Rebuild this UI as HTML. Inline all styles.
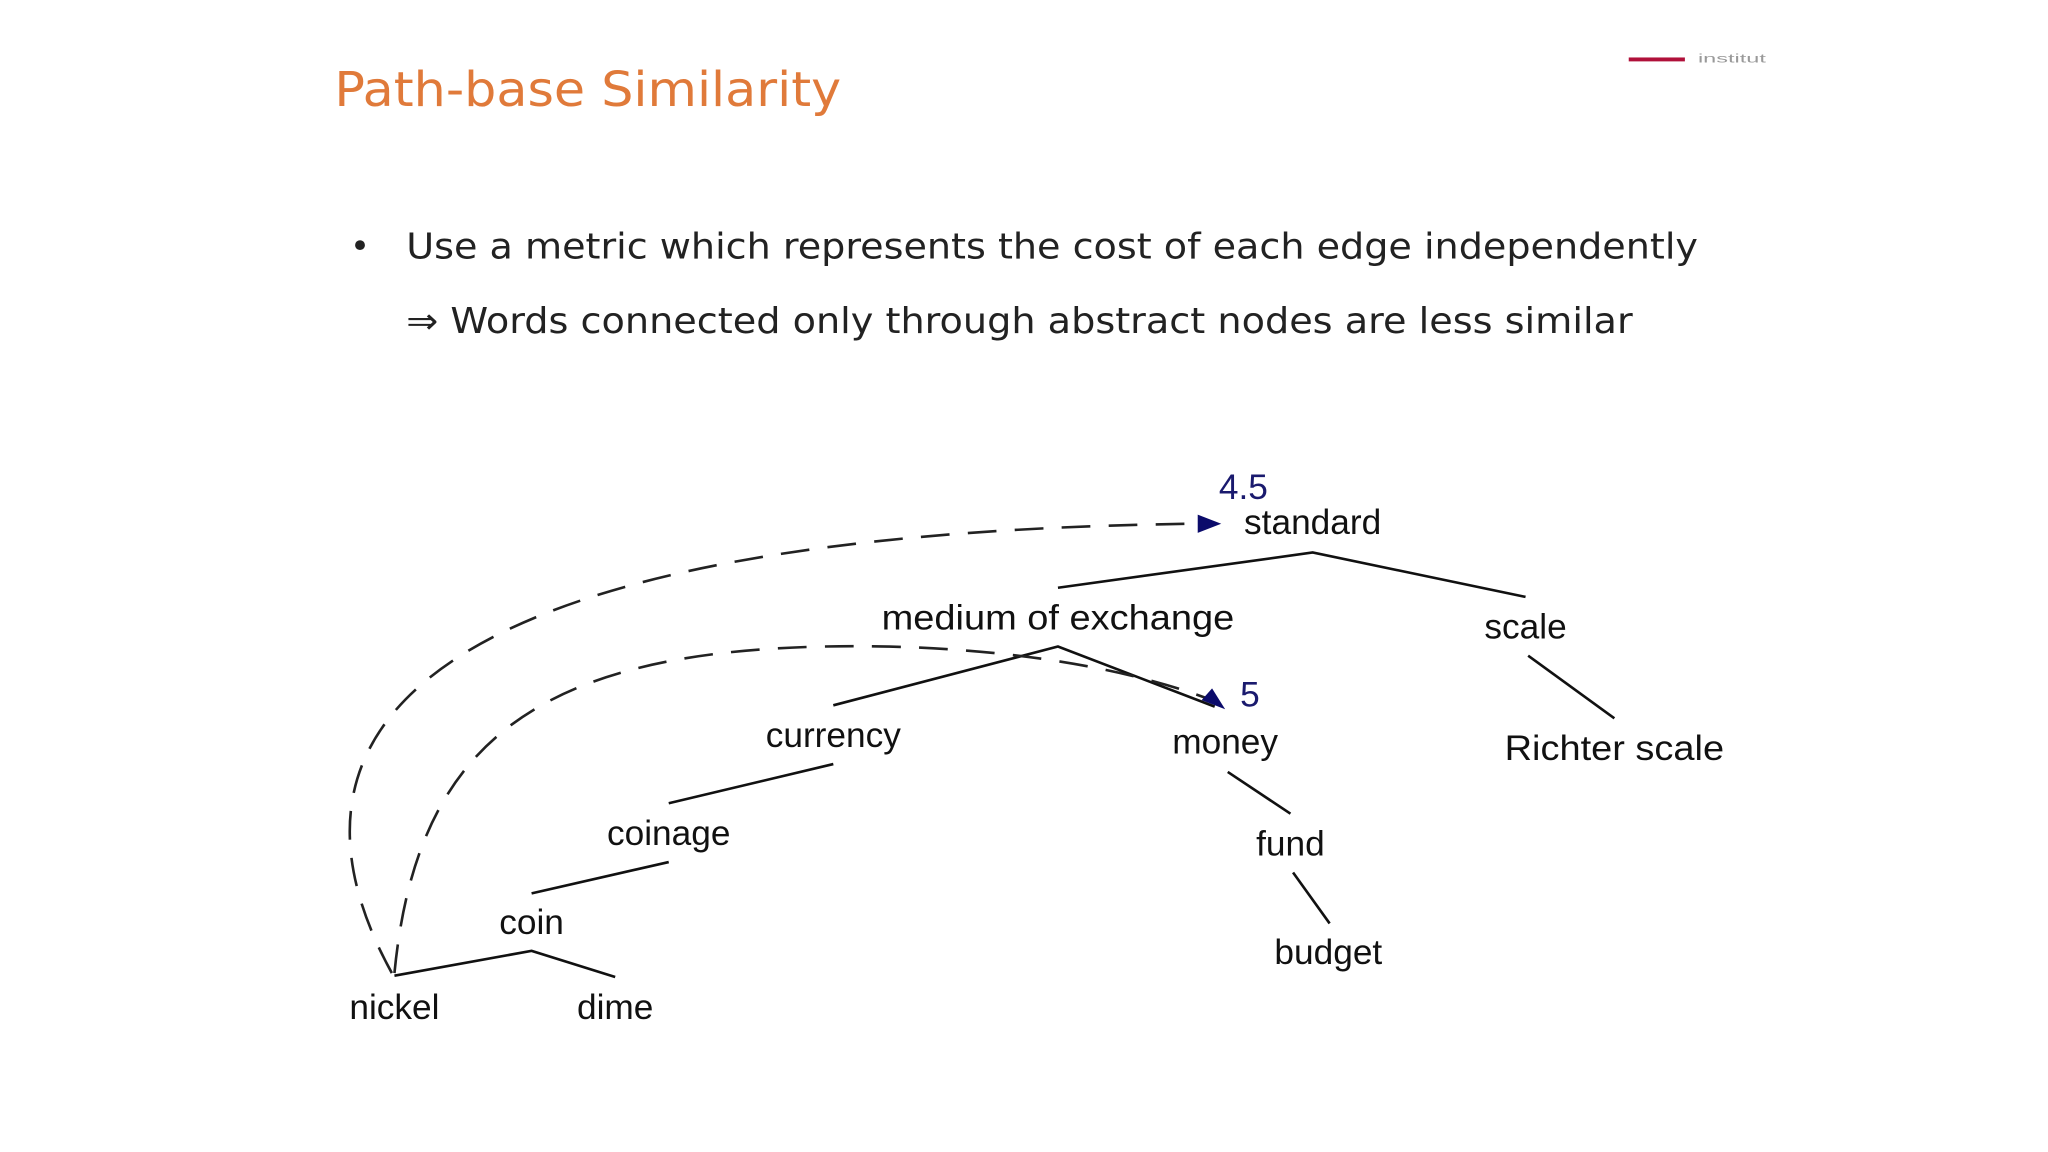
<!DOCTYPE html>
<html><head><meta charset="utf-8"><style>
html,body{margin:0;padding:0;background:#fff;width:2048px;height:1152px;overflow:hidden}
</style></head><body>
<svg width="2048" height="1152" viewBox="0 0 1568 882" xmlns="http://www.w3.org/2000/svg">
<rect width="1568" height="882" fill="#fff"/>
<text x="256" y="81" font-family="DejaVu Sans, Liberation Sans, sans-serif" font-size="37" fill="#e07a3a" textLength="388" lengthAdjust="spacingAndGlyphs">Path-base Similarity</text>
<rect x="1247" y="44" width="43" height="3" fill="#b0103a"/>
<text x="1300" y="48" font-family="Liberation Sans, sans-serif" font-size="9" fill="#999" textLength="52" lengthAdjust="spacingAndGlyphs">institut</text>
<text x="268" y="197" font-family="DejaVu Sans, sans-serif" font-size="26" fill="#222">•</text>
<text x="311" y="198" font-family="DejaVu Sans, sans-serif" font-size="27" fill="#222" textLength="989" lengthAdjust="spacingAndGlyphs">Use a metric which represents the cost of each edge independently</text>
<text x="311" y="255" font-family="DejaVu Sans, sans-serif" font-size="27" fill="#222" textLength="939" lengthAdjust="spacingAndGlyphs">⇒ Words connected only through abstract nodes are less similar</text>
<g fill="none" stroke="#111" stroke-width="2">
<polyline points="810,450 1005,423 1168,457"/>
<polyline points="638,540 810,495 930,541"/>
<line x1="1170" y1="502" x2="1236" y2="550"/>
<line x1="638" y1="585" x2="512" y2="615"/>
<line x1="512" y1="660" x2="407" y2="684"/>
<polyline points="302,747 407,728 471,748"/>
<line x1="940" y1="591" x2="988" y2="623"/>
<line x1="990" y1="668" x2="1018" y2="707"/>
</g>
<g fill="none" stroke="#222" stroke-width="2" stroke-dasharray="22,14">
<path d="M300,745 C 215,590 260,410 912,401"/>
<path d="M302,745 C 320,560 420,490 680,495 C 800,498 880,518 925,535"/>
</g>
<polygon points="917,394 935,401 917,408" fill="#0b0b6b"/>
<polygon points="920,536 938,543 928,527" fill="#0b0b6b"/>
<g font-family="Liberation Sans, Arial, sans-serif" font-size="27" fill="#111" text-anchor="middle">
<text x="952" y="382" fill="#1a1a6e">4.5</text>
<text x="1005" y="409">standard</text>
<text x="810" y="482" textLength="270" lengthAdjust="spacingAndGlyphs">medium of exchange</text>
<text x="1168" y="489">scale</text>
<text x="957" y="541" fill="#1a1a6e">5</text>
<text x="638" y="572">currency</text>
<text x="938" y="577">money</text>
<text x="1236" y="582" textLength="168" lengthAdjust="spacingAndGlyphs">Richter scale</text>
<text x="512" y="647">coinage</text>
<text x="988" y="655">fund</text>
<text x="407" y="715">coin</text>
<text x="1017" y="738">budget</text>
<text x="302" y="780">nickel</text>
<text x="471" y="780">dime</text>
</g>
</svg>
</body></html>
